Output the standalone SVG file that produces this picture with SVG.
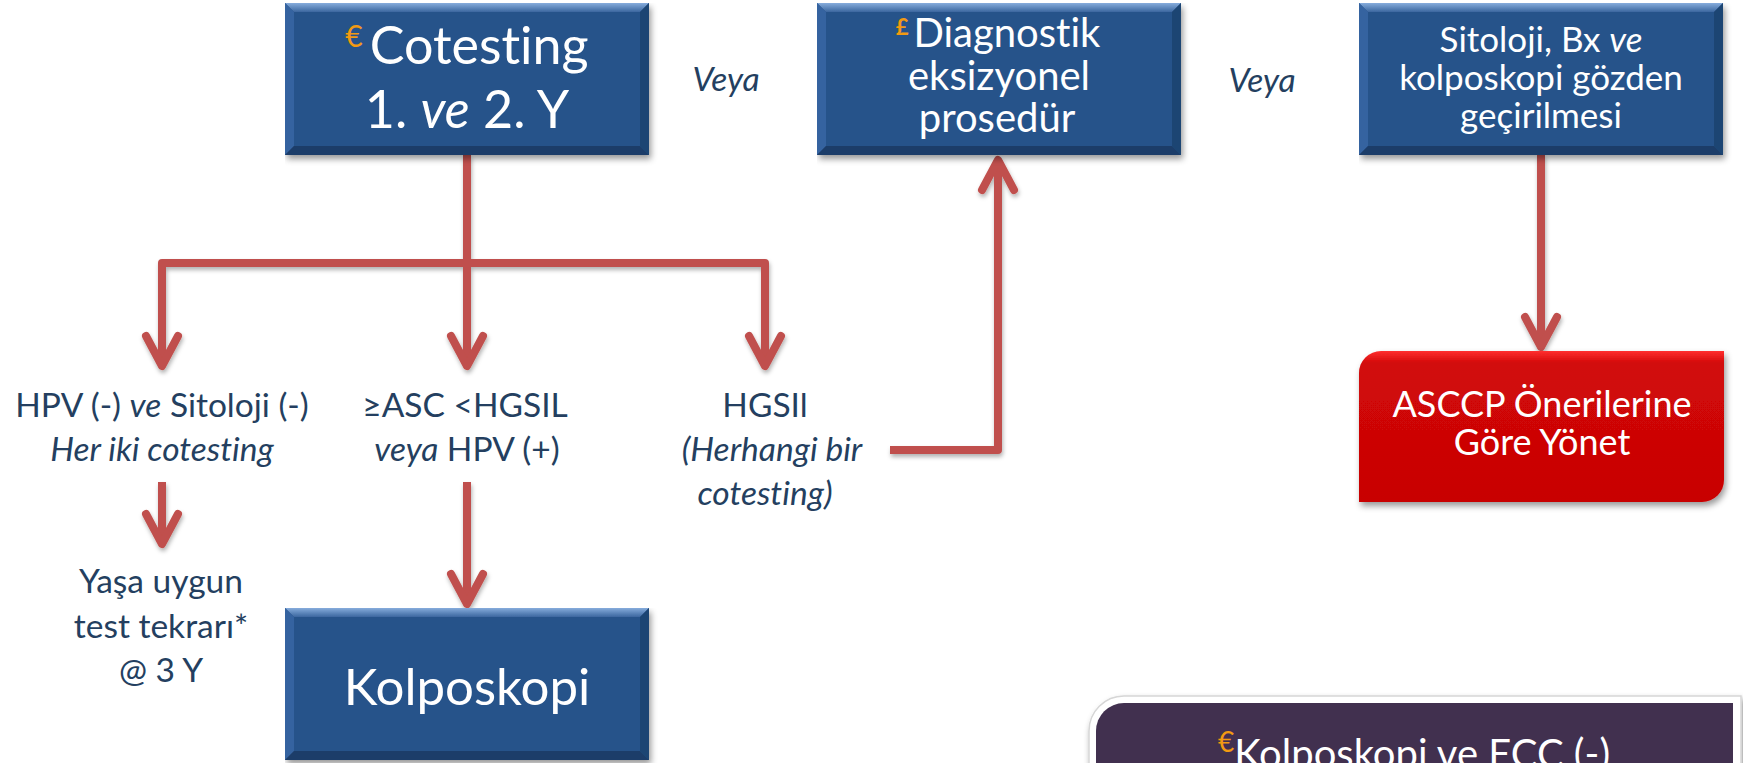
<svg xmlns="http://www.w3.org/2000/svg" xmlns:xlink="http://www.w3.org/1999/xlink" width="1743" height="763" viewBox="0 0 1743 763">
<style>
.t{font-family:Lato,"Open Sans","Liberation Sans",sans-serif;font-variant-ligatures:none;font-feature-settings:"liga" 0,"clig" 0}
.w{fill:#ffffff}
.lab{fill:#243f60;font-size:33.5px}
.i{font-style:italic}
.eu{fill:#f39a12}
.cn{fill:none;stroke:#c0504d;stroke-width:8;stroke-linejoin:round;marker-end:url(#ah)}
</style>
<defs>
<filter id="sh" filterUnits="userSpaceOnUse" x="0" y="0" width="1743" height="763">
<feDropShadow dx="2" dy="4" stdDeviation="3" flood-color="#000" flood-opacity="0.4"/>
</filter>
<filter id="lsh" filterUnits="userSpaceOnUse" x="0" y="0" width="1743" height="763">
<feDropShadow dx="1" dy="3" stdDeviation="2" flood-color="#000" flood-opacity="0.3"/>
</filter>
<linearGradient id="bt" x1="0" y1="0" x2="0" y2="1">
<stop offset="0" stop-color="#86acdc"/><stop offset="1" stop-color="#3b679f"/>
</linearGradient>
<linearGradient id="rg" x1="0" y1="0" x2="0" y2="1">
<stop offset="0" stop-color="#ff3030"/><stop offset="0.08" stop-color="#d20808"/><stop offset="1" stop-color="#c80404"/>
</linearGradient>
<marker id="ah" markerUnits="userSpaceOnUse" orient="auto" refX="0" refY="0" markerWidth="40" markerHeight="40" overflow="visible">
<path d="M-30,-16 L0,0 L-30,16" fill="none" stroke="#c0504d" stroke-width="8" stroke-linecap="round" stroke-linejoin="round"/>
</marker>
<g id="bb">
<rect x="0" y="0" width="364" height="152" fill="#28538a"/>
<polygon points="0,0 364,0 355,9 9,9" fill="url(#bt)"/>
<polygon points="0,0 9,9 9,143 0,152" fill="#3563a0"/>
<polygon points="364,0 355,9 355,143 364,152" fill="#1f4573"/>
<polygon points="0,152 9,143 355,143 364,152" fill="#1c3e69"/>
</g>
</defs>
<rect width="1743" height="763" fill="#ffffff"/>

<g id="connectors" filter="url(#lsh)">
<path class="cn" d="M467,155 V366"/>
<path class="cn" d="M467,263 H162 V366"/>
<path class="cn" d="M467,263 H765 V366"/>
<path class="cn" d="M162,482 V544"/>
<path class="cn" d="M467,482 V604"/>
<path class="cn" d="M890,450 H998 V160"/>
<path class="cn" d="M1541,155 V347"/>
</g>

<g id="n-cotesting">
<use xlink:href="#bb" x="285" y="3" filter="url(#sh)"/>
<text class="t w" x="467" y="64" text-anchor="middle" font-size="52"><tspan class="eu" font-size="30" dy="-17">€</tspan><tspan dy="17" dx="7">Cotesting</tspan></text>
<text class="t w" x="467" y="128" text-anchor="middle" font-size="52">1. <tspan class="i">ve</tspan> 2. Y</text>
</g>

<g id="veya1">
<text class="t lab i" x="726" y="91" font-size="33" text-anchor="middle">Veya</text>
</g>

<g id="n-diagnostik">
<use xlink:href="#bb" x="817" y="3" filter="url(#sh)"/>
<text class="t w" x="998" y="47" text-anchor="middle" font-size="40"><tspan class="eu" font-size="22" font-weight="bold" dy="-12">£</tspan><tspan dy="12" dx="5">Diagnostik</tspan></text>
<text class="t w" x="999" y="90" text-anchor="middle" font-size="40">eksizyonel</text>
<text class="t w" x="997" y="132" text-anchor="middle" font-size="40">prosedür</text>
</g>

<g id="veya2">
<text class="t lab i" x="1262" y="92" font-size="33" text-anchor="middle">Veya</text>
</g>

<g id="n-sitoloji">
<use xlink:href="#bb" x="1359" y="3" filter="url(#sh)"/>
<text class="t w" x="1541" y="52" text-anchor="middle" font-size="35">Sitoloji, Bx <tspan class="i">ve</tspan></text>
<text class="t w" x="1541" y="90" text-anchor="middle" font-size="35">kolposkopi gözden</text>
<text class="t w" x="1541" y="128" text-anchor="middle" font-size="35">geçirilmesi</text>
</g>

<g id="n-hpvneg">
<text class="t lab" x="162" y="417" text-anchor="middle">HPV (-) <tspan class="i">ve</tspan> Sitoloji (-)</text>
<text class="t lab i" x="162" y="461" text-anchor="middle">Her iki cotesting</text>
</g>

<g id="n-asc">
<text class="t lab" x="465" y="417" text-anchor="middle">≥ASC &lt;HGSIL</text>
<text class="t lab" x="467" y="461" text-anchor="middle"><tspan class="i">veya</tspan> HPV (+)</text>
</g>

<g id="n-hgsil">
<text class="t lab" x="765" y="417" text-anchor="middle">HGSIl</text>
<text class="t lab i" x="772" y="461" text-anchor="middle">(Herhangi bir</text>
<text class="t lab i" x="765" y="505" text-anchor="middle">cotesting)</text>
</g>

<g id="n-yasa">
<text class="t lab" x="161" y="593" font-size="32" text-anchor="middle">Yaşa uygun</text>
<text class="t lab" x="161" y="638" font-size="32" text-anchor="middle">test tekrarı*</text>
<text class="t lab" x="161" y="682" font-size="32" text-anchor="middle">@ 3 Y</text>
</g>

<g id="n-kolposkopi">
<use xlink:href="#bb" x="285" y="608" filter="url(#sh)"/>
<text class="t w" x="467" y="705" text-anchor="middle" font-size="51">Kolposkopi</text>
</g>

<g id="n-asccp">
<path d="M1381,351 H1724 V480 A22,22 0 0 1 1702,502 H1359 V373 A22,22 0 0 1 1381,351 Z" fill="url(#rg)" filter="url(#sh)"/>
<text class="t w" x="1542" y="417" text-anchor="middle" font-size="36">ASCCP Önerilerine</text>
<text class="t w" x="1542" y="455" text-anchor="middle" font-size="36">Göre Yönet</text>
</g>

<g id="n-kolpecc">
<path d="M1089,775 V731 A35,35 0 0 1 1124,696 H1741 V775 Z" fill="#ffffff" stroke="#d6d6d6" stroke-width="1.5" filter="url(#sh)"/>
<path d="M1096,775 V731 A28,28 0 0 1 1124,703 H1733 V775 Z" fill="#41304f"/>
<text class="t w" x="1414" y="768" text-anchor="middle" font-size="40"><tspan class="eu" font-size="28" dy="-16">€</tspan><tspan dy="16">Kolposkopi ve ECC (-)</tspan></text>
</g>
</svg>
